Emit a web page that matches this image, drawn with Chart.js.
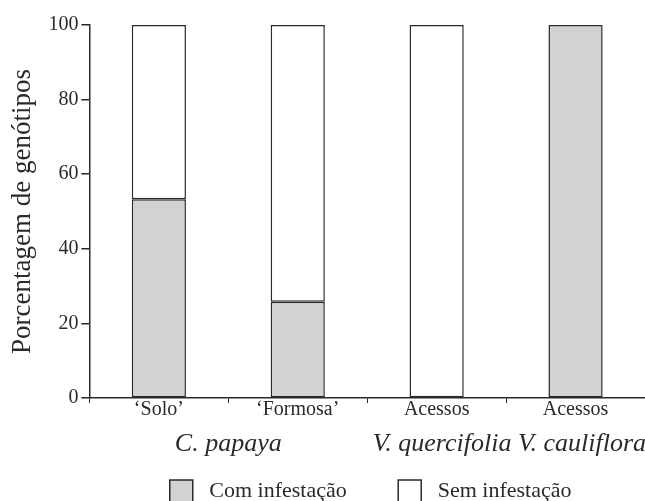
<!DOCTYPE html>
<html>
<head>
<meta charset="utf-8">
<script src="https://cdn.jsdelivr.net/npm/chart.js@4"></script>
<style>
  html, body { margin: 0; padding: 0; background: #fff; }
  #wrap { width: 645px; height: 501px; }
</style>
</head>
<body>
<div id="wrap"><canvas id="genotypeChart"></canvas></div>
<script>
const categories = ["‘Solo’", "‘Formosa’", "Acessos", "Acessos"];
const withInfestation = [53.3, 25.8, 0, 100];
const withoutInfestation = [46.7, 74.2, 100, 0];
const yTicks = [0, 20, 40, 60, 80, 100];
const speciesLeft = "C. papaya";
const speciesRight = "V. quercifolia V. cauliflora";

const ink = "#2a2a2a";
const serif = "'Liberation Serif', 'DejaVu Serif', serif";

// species names sit under the category labels, in italics
const speciesLabels = {
  id: "speciesLabels",
  afterDraw(chart) {
    const { ctx } = chart;
    const x = chart.scales.x;
    const y = x.top + 53;
    ctx.save();
    ctx.fillStyle = ink;
    ctx.font = `italic 26px ${serif}`;
    ctx.textBaseline = "alphabetic";
    ctx.textAlign = "center";
    ctx.fillText(speciesLeft, (x.getPixelForValue(0) + x.getPixelForValue(1)) / 2, y);
    ctx.textAlign = "right";
    ctx.fillText(speciesRight, x.right + 1, y);
    ctx.restore();
  },
};

// legend spacing: leading space widens the box/text gap, trailing spaces push items apart
const legendGaps = [" ".repeat(9), " ".repeat(13)];

new Chart(document.getElementById("genotypeChart"), {
  type: "bar",
  data: {
    labels: categories,
    datasets: [
      {
        label: "Com infestação",
        data: withInfestation,
        backgroundColor: "#d1d2d4",
        borderColor: ink,
        borderWidth: 1.5,
        borderSkipped: false,
        barPercentage: 0.39,
        categoryPercentage: 1,
      },
      {
        label: "Sem infestação",
        data: withoutInfestation,
        backgroundColor: "#ffffff",
        borderColor: ink,
        borderWidth: 1.5,
        borderSkipped: false,
        barPercentage: 0.39,
        categoryPercentage: 1,
      },
    ],
  },
  options: {
    responsive: true,
    maintainAspectRatio: false,
    animation: false,
    layout: { padding: { top: 25, left: 0, right: 0, bottom: -11 } },
    plugins: {
      tooltip: { enabled: false },
      legend: {
        position: "bottom",
        align: "end",
        labels: {
          color: ink,
          font: { family: serif, size: 22 },
          boxWidth: 23,
          boxHeight: 22,
          padding: 2,
          generateLabels(chart) {
            const items = Chart.defaults.plugins.legend.labels.generateLabels(chart);
            items.forEach((item, i) => {
              item.text = " " + item.text + legendGaps[i];
            });
            return items;
          },
        },
      },
    },
    scales: {
      x: {
        stacked: true,
        border: { color: ink, width: 1.5 },
        grid: { drawOnChartArea: false, color: ink, tickLength: 5, lineWidth: 1 },
        ticks: { color: ink, font: { family: serif, size: 20 }, padding: -5 },
        afterFit(scale) {
          scale.height = 80;
        },
      },
      y: {
        stacked: true,
        min: 0,
        max: 100,
        afterBuildTicks(scale) {
          scale.ticks = yTicks.map((v) => ({ value: v }));
        },
        border: { color: ink, width: 1.5 },
        grid: { drawOnChartArea: false, color: ink, tickLength: 8, lineWidth: 1.5 },
        ticks: { color: ink, font: { family: serif, size: 20 }, padding: 3 },
        title: {
          display: true,
          text: "Porcentagem de genótipos",
          color: ink,
          font: { family: serif, size: 27 },
          padding: { top: 7, bottom: 6 },
        },
      },
    },
  },
  plugins: [speciesLabels],
});
</script>
</body>
</html>
